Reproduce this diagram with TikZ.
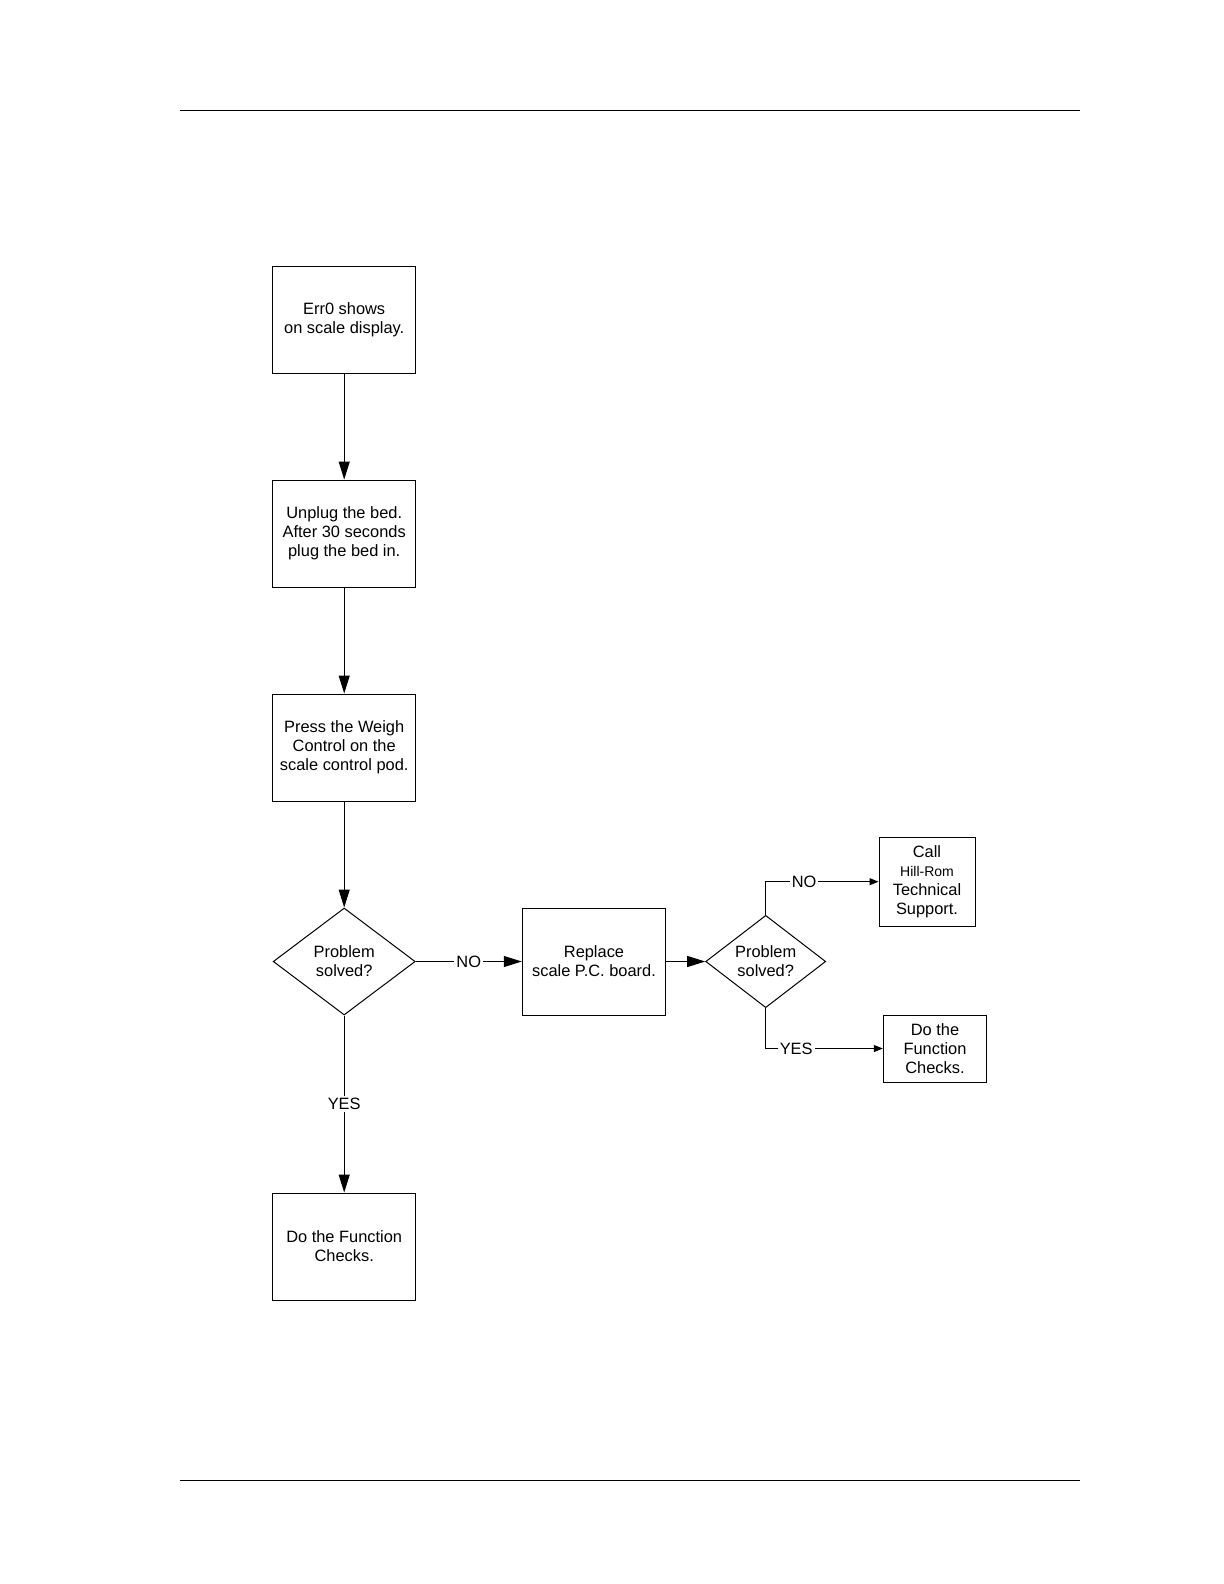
\documentclass[tikz,border=0pt]{standalone}
\usepackage{fontspec}
\setmainfont{Liberation Sans}
\usepackage{tikz}
\usetikzlibrary{positioning,arrows.meta,shapes.geometric,calc}

\begin{document}
\begin{tikzpicture}[
  x=0.5pt, y=-0.5pt,
  font=\fontsize{8.2}{9.6}\selectfont,
  caja/.style={draw, line width=0.5pt, align=center, inner sep=2pt, minimum width=71.5pt, minimum height=53.5pt},
  rombo/.style={draw, diamond, line width=0.5pt, align=center, inner sep=0pt},
  flecha/.style={-{Triangle[length=9pt, width=5.5pt]}, line width=0.5pt},
  flechita/.style={-{Triangle[length=4.5pt, width=3.5pt]}, line width=0.5pt},
  etiq/.style={fill=white, inner sep=1pt}
]
  \useasboundingbox (0,0) rectangle (1224,1584);
  \draw[line width=0.5pt] (180,111) -- (1080,111);
  \draw[line width=0.5pt] (180,1480) -- (1080,1480);

  % main column
  \node[caja] (err) at (344.2,319.5) {Err0 shows\\on scale display.};
  \node[caja] (unplug) at (344.2,533.5) {Unplug the bed.\\After 30 seconds\\plug the bed in.};
  \node[caja] (press) at (344.2,747.5) {Press the Weigh\\Control on the\\scale control pod.};
  \node[rombo, minimum width=71pt, minimum height=53.5pt] (solved) at (344.2,961.5) {Problem\\solved?};
  \node[caja] (checks) at (344.2,1246.5) {Do the Function\\Checks.};

  \draw[flecha] (err) -- (unplug);
  \draw[flecha] (unplug) -- (press);
  \draw[flecha] (press) -- (solved);
  \draw[flecha] (solved) -- node[etiq] {YES} (checks);

  % right branch
  \node[caja, minimum width=71.7pt] (replace) at (594,961.5) {Replace\\scale P.C. board.};
  \node[rombo, minimum width=60pt, minimum height=44pt] (solvedb) at (765.7,961.5) {Problem\\solved?};
  \node[caja, minimum width=48pt, minimum height=44.3pt, inner sep=1pt] (call) at (927,881.7)
        {Call\\{\fontsize{7}{9.6}\selectfont Hill-Rom}\\Technical\\Support.};
  \node[caja, minimum width=51.7pt, minimum height=33.5pt, inner sep=1pt] (checksb) at (935,1048.5)
        {Do the\\Function\\Checks.};

  \draw[flecha] (solved) -- node[etiq] {NO} (replace);
  \draw[flecha] (replace) -- (solvedb);
  \draw[flechita] (solvedb.north) |- node[etiq, pos=0.67] {NO} (call.west);
  \draw[flechita] (solvedb.south) |- node[etiq, pos=0.63] {YES} (checksb.west);
\end{tikzpicture}
\end{document}
